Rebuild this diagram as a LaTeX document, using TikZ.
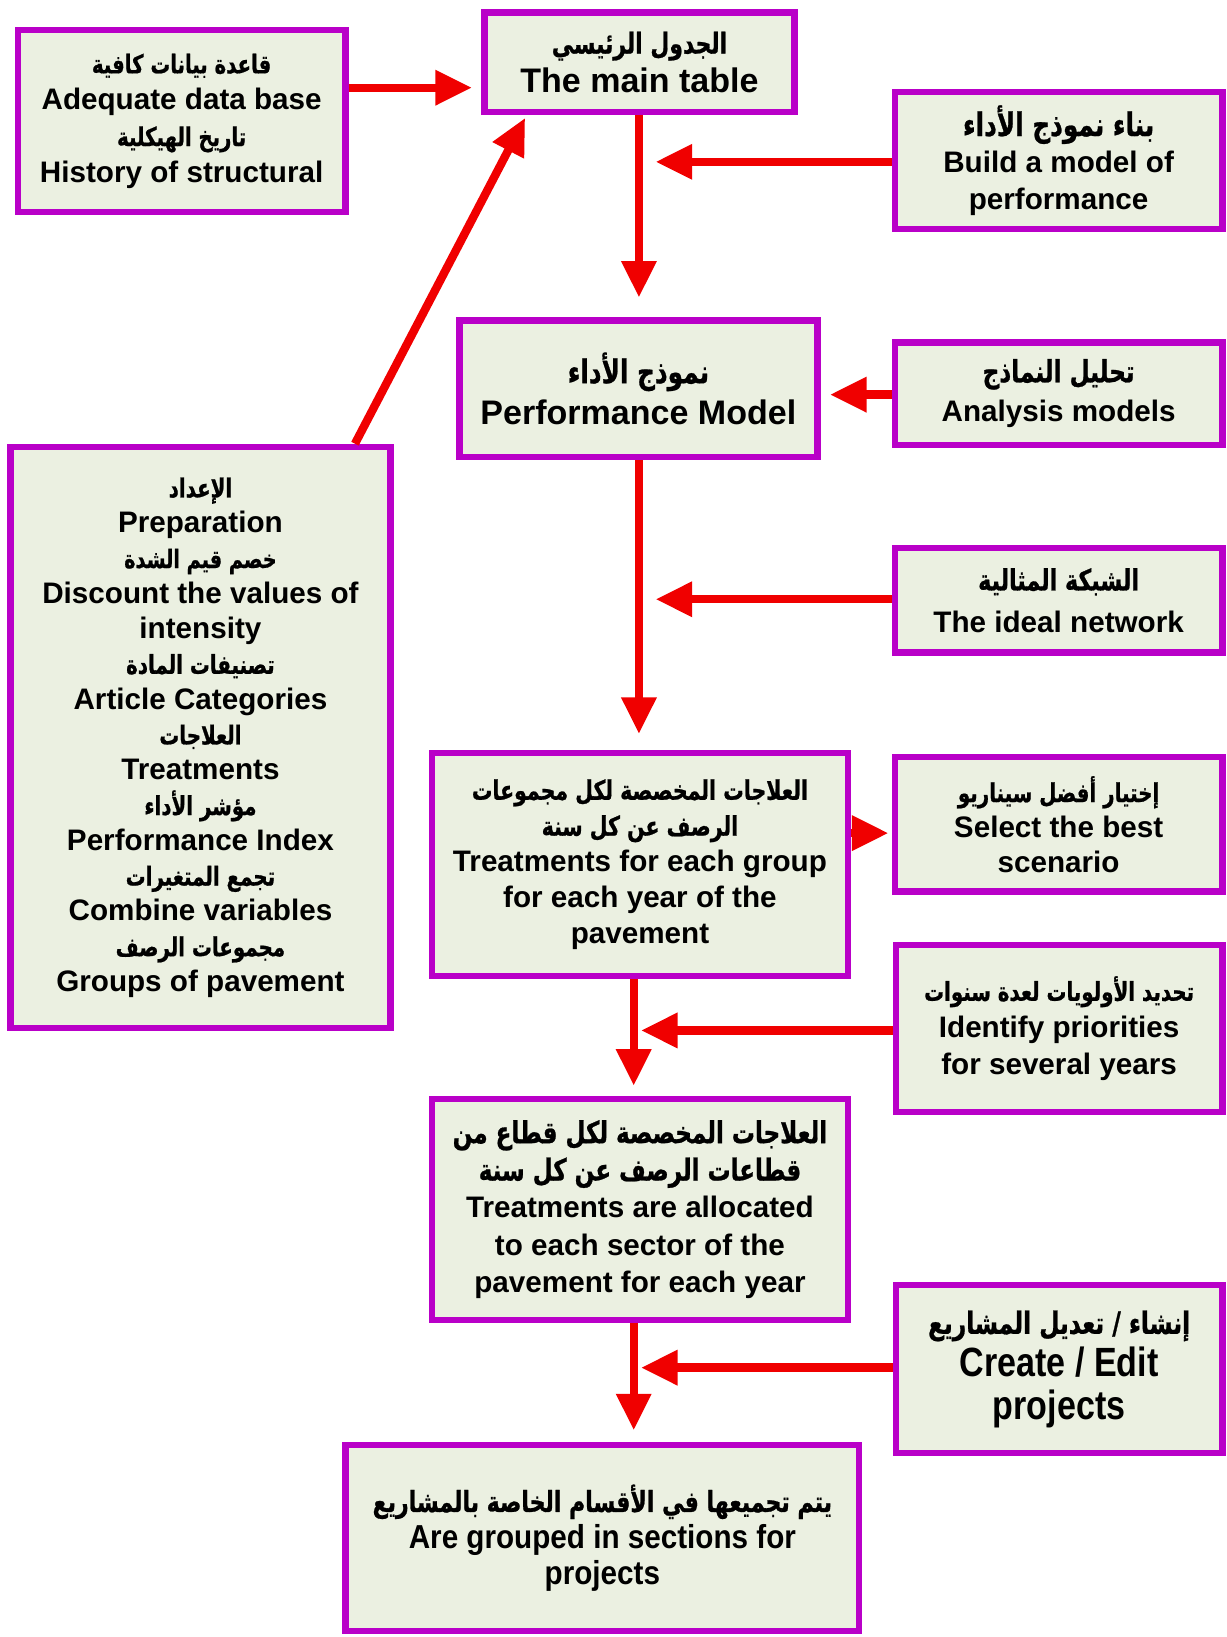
\documentclass[tikz,border=0pt]{standalone}
\usepackage{fontspec}
\usepackage{graphicx}
\setmainfont{Liberation Sans}
\newfontfamily\arabicfont[Script=Arabic,FakeStretch=0.76,FakeBold=0.8]{DejaVu Sans}
\TeXXeTstate=1
\usetikzlibrary{arrows.meta,fit}
\definecolor{boxfill}{RGB}{235,240,225}
\definecolor{boxline}{RGB}{185,0,200}
\definecolor{arrowred}{RGB}{240,0,0}
% one Arabic line, kept on a single line
\newcommand\artxt[2][12.9]{\mbox{\arabicfont\bfseries\fontsize{#1}{17}\selectfont #2}}
% taller English lines
\newcommand\tall[2][1.2]{\scalebox{1}[#1]{#2}}
\tikzset{
  box/.style={draw=boxline, line width=3pt, fill=boxfill, inner sep=0pt},
  txt/.style={align=center, text=black, inner sep=0pt,
    font=\bfseries\fontsize{14.2}{17.2}\selectfont},
  lskip/.style={font=\bfseries\fontsize{14.2}{#1}\selectfont},
  bigtext/.style={font=\bfseries\fontsize{16.3}{#1}\selectfont},
  arr/.style={draw=arrowred, line width=4pt,
    -{Triangle[length=17.5pt,width=16pt]}},
}
\begin{document}
\begin{tikzpicture}[x=0.5pt,y=-0.5pt]
\fill[white] (0,0) rectangle (1175,1568);
\useasboundingbox (0,0) rectangle (1175,1568);

% boxes, each with its text centred inside
\node[box, fit={(17,29) (331,203)},
  label={[txt,lskip=17.4]center:{\artxt[12.4]{\beginR قاعدة بيانات كافية\endR}\\Adequate data base\\\artxt[12.4]{\beginR تاريخ الهيكلية\endR}\\History of structural}}] (adb) {};
\node[box, fit={(464,12) (761,107)},
  label={[txt,bigtext=18.5]center:{\artxt[13.8]{\beginR الجدول الرئيسي\endR}\\The main table}}] (main) {};
\node[box, fit={(857,88) (1171,219)},
  label={[txt,lskip=17.5]center:{\artxt[15.6]{\beginR بناء نموذج الأداء\endR}\\Build a model of\\performance}}] (build) {};
\node[box, fit={(440,307) (783,438)},
  label={[txt,bigtext=20]center:{\artxt[15.6]{\beginR نموذج الأداء\endR}\\Performance Model}}] (perf) {};
\node[box, fit={(857,328) (1171,426)},
  label={[txt,lskip=19]center:{\artxt[14.6]{\beginR تحليل النماذج\endR}\\Analysis models}}] (anal) {};
\node[box, fit={(10,428) (374,985)},
  label={[txt,lskip=16.9]center:{\artxt[12.5]{\beginR الإعداد\endR}\\Preparation\\\artxt[12.1]{\beginR خصم قيم الشدة\endR}\\Discount the values of\\intensity\\
   \artxt[12.5]{\beginR تصنيفات المادة\endR}\\Article Categories\\\artxt[12.5]{\beginR العلاجات\endR}\\Treatments\\
   \artxt[12.5]{\beginR مؤشر الأداء\endR}\\Performance Index\\\artxt[12.5]{\beginR تجمع المتغيرات\endR}\\Combine variables\\
   \artxt[12.5]{\beginR مجموعات الرصف\endR}\\Groups of pavement}}] (prep) {};
\node[box, fit={(857,525) (1171,625)},
  label={[txt,lskip=20]center:{\artxt[14]{\beginR الشبكة المثالية\endR}\\The ideal network}}] (ideal) {};
\node[box, fit={(414,721) (812,935)},
  label={[txt,lskip=17.2]center:{\artxt{\beginR العلاجات المخصصة لكل مجموعات\endR}\\\artxt{\beginR الرصف عن كل سنة\endR}\\Treatments for each group\\for each year of the\\pavement}}] (tgroup) {};
\node[box, fit={(857,725) (1171,854)},
  label={[txt,lskip=16.75]center:{\artxt[12.5]{\beginR إختيار أفضل سيناريو\endR}\\Select the best\\scenario}}] (select) {};
\node[box, fit={(858,905) (1171,1065)},
  label={[txt,lskip=17.6]center:{\artxt[12.5]{\beginR تحديد الأولويات لعدة سنوات\endR}\\Identify priorities\\for several years}}] (ident) {};
\node[box, fit={(414,1053) (812,1264)},
  label={[txt,lskip=17.9]center:{\artxt[14.5]{\beginR العلاجات المخصصة لكل قطاع من\endR}\\\artxt[14.5]{\beginR قطاعات الرصف عن كل سنة\endR}\\Treatments are allocated\\to each sector of the\\pavement for each year}}] (sector) {};
\node[box, fit={(858,1231) (1171,1392)},
  label={[txt,bigtext=20.5]center:{\artxt[14.7]{\beginR إنشاء / تعديل المشاريع\endR}\\\tall{Create / Edit}\\\tall{projects}}}] (create) {};
\node[box, fit={(331,1384) (823,1562)},
  label={[txt,lskip=17.3]center:{\artxt[13.9]{\beginR يتم تجميعها في الأقسام الخاصة بالمشاريع\endR}\\\tall[1.12]{Are grouped in sections for}\\\tall[1.12]{projects}}}] (bottom) {};

% arrow tips and rows
\coordinate (t1) at (452,84);
\coordinate (t2) at (628,155);
\coordinate (t3) at (612,285);
\coordinate (t4) at (795,378);
\coordinate (t5) at (503,113);
\coordinate (d5) at (340,0);
\coordinate (t6) at (612,703);
\coordinate (t7) at (628,574);
\coordinate (t8) at (851,798);
\coordinate (t9) at (607,1040);
\coordinate (t10) at (614,987);
\coordinate (t11) at (607,1370);
\coordinate (t12) at (614,1310);

% connectors
\draw[arr] (adb.east |- t1) -- (t1);
\draw[arr] (build.west |- t2) -- (t2);
\draw[arr] (main.south -| t3) -- (t3);
\draw[arr] (anal.west |- t4) -- (t4);
\draw[arr] (prep.north -| d5) -- (t5);
\draw[arr] (perf.south -| t6) -- (t6);
\draw[arr] (ideal.west |- t7) -- (t7);
\draw[arr] (tgroup.east |- t8) -- (t8);
\draw[arr] (tgroup.south -| t9) -- (t9);
\draw[arr] (ident.west |- t10) -- (t10);
\draw[arr] (sector.south -| t11) -- (t11);
\draw[arr] (create.west |- t12) -- (t12);
\end{tikzpicture}
\end{document}
